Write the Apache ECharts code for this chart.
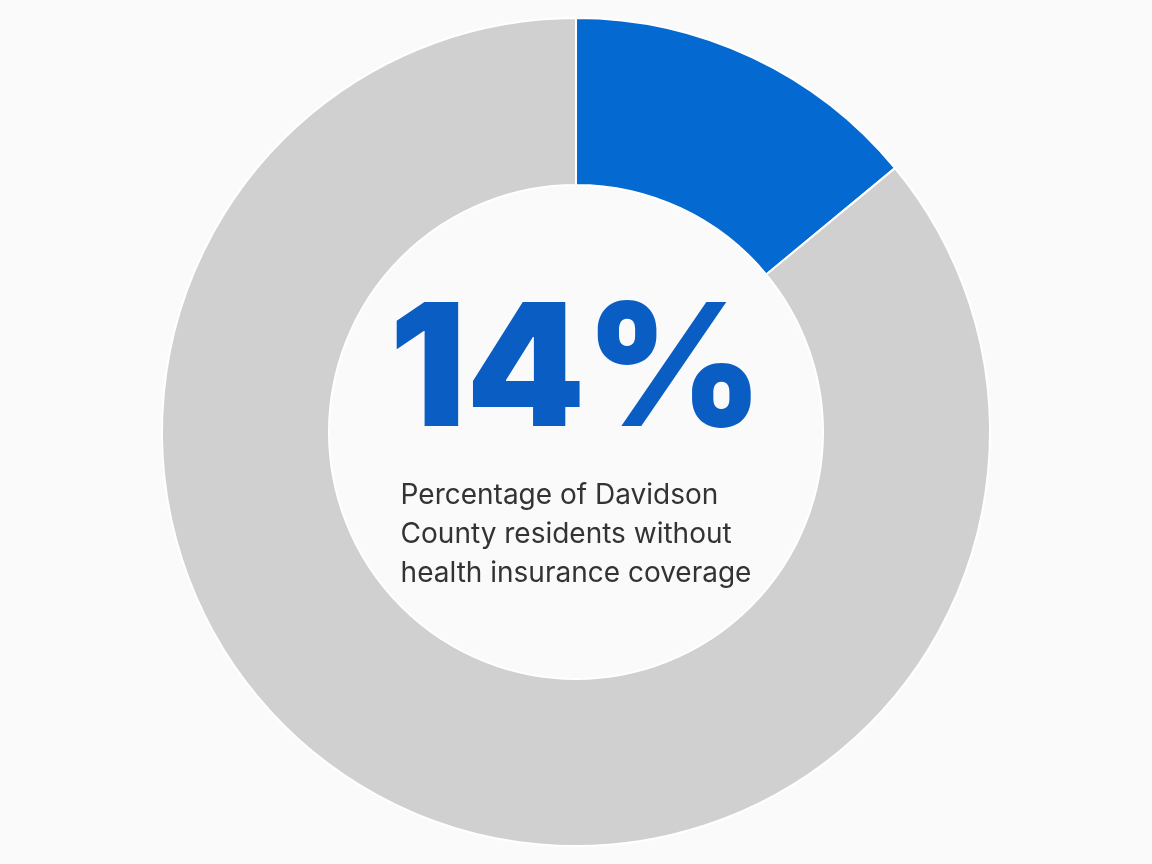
<!DOCTYPE html>
<html>
<head>
<meta charset="utf-8">
<script src="https://cdn.jsdelivr.net/npm/echarts@6/dist/echarts.min.js"></script>
<style>
html,body{margin:0;padding:0;background:#fafafa;}
#chart{width:1152px;height:864px;}
</style>
</head>
<body>
<div id="chart"></div>
<script>
var labels = ['Without coverage', 'With coverage'];
var values = [14, 86];
var colors = ['#0469d0', '#d0d0d0'];

var myChart = echarts.init(document.getElementById('chart'));
var option = {
	backgroundColor: '#fafafa',
	animation: false,
	graphic: [
		{
			type: 'text', left: 'center', top: 290,
			style: { text: '14%', fontSize: 170, fontWeight: 900, fill: '#0a5dc2', fontFamily: 'Inter' }
		},
		{
			type: 'text', left: 'center', top: 476,
			style: {
				text: 'Percentage of Davidson\nCounty residents without\nhealth insurance coverage',
				fontSize: 28, lineHeight: 39, align: 'center', fill: '#333333', fontFamily: 'Inter'
			}
		}
	],
	series: [{
		type: 'pie',
		center: ['50%', '50%'],
		radius: [247, 414],
		startAngle: 90,
		clockwise: true,
		label: { show: false },
		itemStyle: { borderColor: '#ffffff', borderWidth: 2 },
		data: labels.map(function (n, i) {
			return { name: n, value: values[i], itemStyle: { color: colors[i] } };
		})
	}]
};
myChart.setOption(option);
</script>
</body>
</html>
